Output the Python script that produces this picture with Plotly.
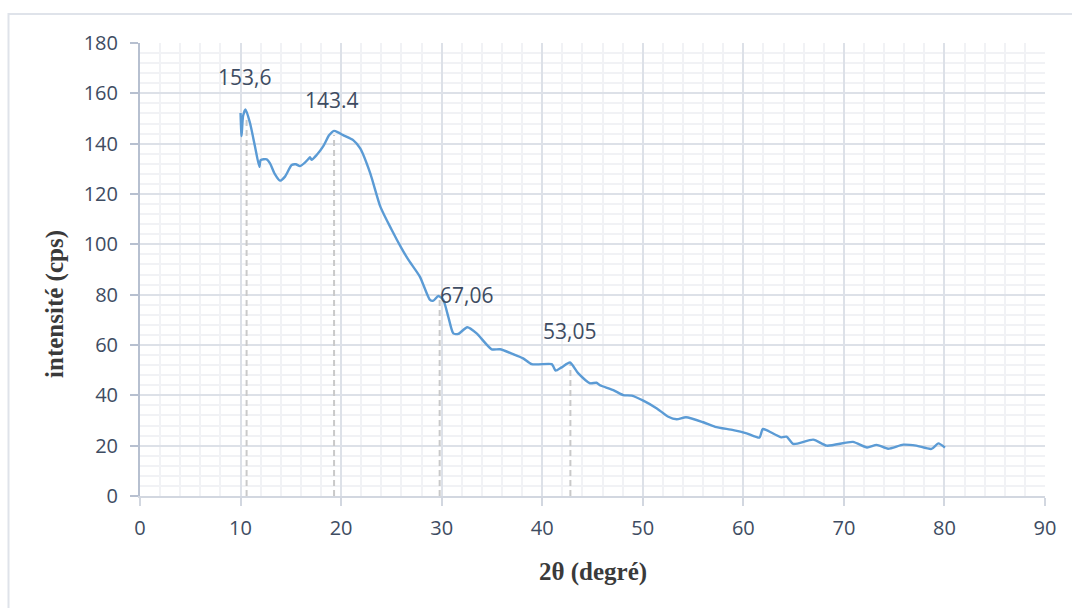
import plotly.graph_objects as go

# Diffractogram: 2-theta (degrees) vs intensity (counts per second)
two_theta = [10.0, 10.1, 10.25, 10.5, 10.94, 11.44, 11.87, 12.0, 12.6, 12.93,
             13.4, 13.92, 14.42, 15.08, 15.5, 15.9, 16.4, 16.74, 16.9, 17.07,
             17.57, 18.23, 18.8, 19.3, 19.7, 20.2, 21.2, 21.9, 22.9, 23.9,
             25.0, 26.0, 26.7, 27.84, 28.84, 29.17, 29.67, 30.16, 30.66, 31.16,
             31.65, 32.55, 33.48, 34.97, 35.8, 37.1, 38.1, 38.95, 40.94, 41.1,
             41.34, 41.93, 42.76, 43.59, 44.75, 45.4, 45.7, 47.07, 48.06, 48.9,
             50.05, 51.4, 52.54, 53.37, 54.3, 56.02, 57.2, 59.0, 60.33, 61.6,
             61.92, 62.3, 63.8, 64.3, 64.97, 66.95, 68.3, 70.9, 72.3, 73.26,
             74.4, 75.9, 77.2, 78.7, 79.4, 80.05]
intensity = [152.2, 143.0, 151.0, 153.6, 148.2, 138.8, 130.8, 133.5, 133.8, 132.2,
             128.0, 125.3, 126.9, 131.5, 131.8, 131.1, 132.5, 133.9, 134.6, 133.6,
             135.5, 139.0, 143.3, 145.1, 144.5, 143.4, 141.4, 138.1, 128.2, 115.0,
             106.0, 98.5, 93.8, 87.1, 77.9, 77.6, 79.5, 77.9, 71.2, 64.6,
             64.4, 67.06, 64.6, 58.3, 58.3, 56.4, 54.7, 52.4, 52.4, 51.5,
             49.8, 51.1, 53.05, 48.7, 44.8, 45.0, 44.1, 42.1, 40.1, 39.9,
             37.9, 34.8, 31.5, 30.5, 31.3, 29.3, 27.5, 26.2, 24.9, 23.2,
             26.6, 26.2, 23.3, 23.6, 20.7, 22.4, 20.0, 21.5, 19.3, 20.3,
             18.8, 20.4, 20.0, 18.7, 20.9, 19.2]

# Peak markers: dashed drop lines and their value labels
drop_x = [10.6, 19.3, 29.8, 42.8]
drop_top = [150.0, 143.4, 78.0, 52.5]
label_text = ["153,6", "143.4", "67,06", "53,05"]
label_x = [10.44, 19.09, 32.42, 42.76]
label_y = [166.5, 157.3, 79.9, 65.6]

x_ticks = [0, 10, 20, 30, 40, 50, 60, 70, 80, 90]
y_ticks = [0, 20, 40, 60, 80, 100, 120, 140, 160, 180]

TEXT = "#3e4c62"
MAJOR = "#dde1e8"
MINOR = "#f1f2f5"

fig = go.Figure()

dx, dy = [], []
for xv, top in zip(drop_x, drop_top):
    dx += [xv, xv, None]
    dy += [0, top, None]
fig.add_trace(go.Scatter(x=dx, y=dy, mode="lines",
                         line=dict(color="#c9c9c9", width=2, dash="6px,4px"),
                         hoverinfo="skip", showlegend=False))

fig.add_trace(go.Scatter(x=two_theta, y=intensity, mode="lines",
                         line=dict(color="#5B9BD5", width=2.4, shape="spline",
                                   smoothing=0.6),
                         showlegend=False))

for t, xv, yv in zip(label_text, label_x, label_y):
    fig.add_annotation(x=xv, y=yv, text=t, showarrow=False,
                       xanchor="center", yanchor="middle",
                       font=dict(family="Open Sans", size=21, color=TEXT))

# Axis titles
title_font = dict(family="Liberation Serif", size=25, color="#3a3a3a",
                  weight="bold")
fig.add_annotation(xref="paper", yref="paper", x=0.5, y=-0.167,
                   text="2θ (degré)", showarrow=False,
                   xanchor="center", yanchor="middle", font=title_font)
fig.add_annotation(xref="paper", yref="paper", x=-0.0939, y=0.424,
                   text="intensité (cps)", showarrow=False, textangle=-90,
                   xanchor="center", yanchor="middle", font=title_font)

# Chart frame
fig.add_shape(type="rect", xref="paper", yref="paper",
              x0=-0.1453, x1=1.06, y0=-0.3, y1=1.064,
              line=dict(color="#dfe3ea", width=2), layer="below")

fig.update_xaxes(range=[0, 90], tickvals=x_ticks, showgrid=True,
                 gridcolor=MAJOR, gridwidth=2,
                 minor=dict(dtick=2, tick0=0, showgrid=True, gridcolor=MINOR,
                            gridwidth=2, ticks=""),
                 showline=True, linecolor="#d2d7e0", linewidth=2,
                 ticks="outside", ticklen=8, tickwidth=2, tickcolor="#d2d7e0",
                 zeroline=False, ticklabelstandoff=5,
                 tickfont=dict(family="Open Sans", size=20, color=TEXT))
fig.update_yaxes(range=[0, 180], tickvals=y_ticks, showgrid=True,
                 gridcolor=MAJOR, gridwidth=2,
                 minor=dict(dtick=4, tick0=0, showgrid=True, gridcolor=MINOR,
                            gridwidth=2, ticks=""),
                 showline=True, linecolor="#b7c0d0", linewidth=2,
                 ticks="outside", ticklen=8, tickwidth=2, tickcolor="#b7c0d0",
                 zeroline=False, ticklabelstandoff=8,
                 tickfont=dict(family="Open Sans", size=20, color=TEXT))

fig.update_layout(width=1072, height=608,
                  margin=dict(l=140, r=27, t=43, b=112),
                  paper_bgcolor="white", plot_bgcolor="white",
                  showlegend=False)

fig.write_html("out.html")
